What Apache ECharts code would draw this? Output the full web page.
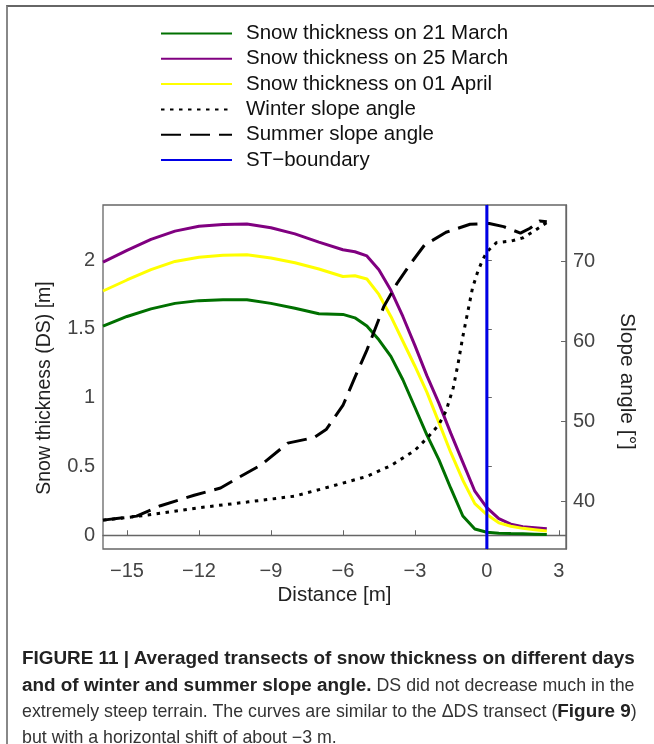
<!DOCTYPE html>
<html>
<head>
<meta charset="utf-8">
<script src="https://cdn.jsdelivr.net/npm/echarts@6/dist/echarts.min.js"></script>
<style>
    html, body { margin: 0; padding: 0; background: #fff; }
    .page { position: relative; width: 654px; height: 744px; overflow: hidden; }
    .frame { position: absolute; left: 6px; top: 5px; width: 700px; height: 800px;
             border-top: 2px solid #666; border-left: 2px solid #888; }
    #chart { position: absolute; left: 0; top: 0; width: 654px; height: 744px; }
    .caption { position: absolute; left: 22px; top: 645px; width: 616px;
               font-family: "Liberation Sans", Arial, sans-serif; font-size: 17.8px;
               line-height: 25.7px; color: #333; }
    .caption div { white-space: nowrap; }
    .caption b { color: #222; font-size: 18.9px; }
</style>
</head>
<body>
<div class="page">
    <div class="frame"></div>
    <div id="chart"></div>
    <div class="caption">
        <div><b>FIGURE 11 | Averaged transects of snow thickness on different days</b></div>
        <div><b>and of winter and summer slope angle.</b> DS did not decrease much in the</div>
        <div>extremely steep terrain. The curves are similar to the ΔDS transect (<b>Figure 9</b>)</div>
        <div>but with a horizontal shift of about −3 m.</div>
    </div>
</div>
<script>
    // snow thickness transects [m], shared distance [m]
    const snowDist = [-16, -15, -14, -13, -12, -11, -10, -9, -8, -7, -6, -5.5, -5, -4.5, -4, -3.5, -3, -2.5, -2, -1.5, -1, -0.5, 0, 0.5, 1, 1.5, 2, 2.5]
    const snow21Mar = [1.52, 1.59, 1.645, 1.685, 1.705, 1.712, 1.712, 1.685, 1.65, 1.61, 1.605, 1.58, 1.52, 1.42, 1.30, 1.13, 0.93, 0.73, 0.55, 0.34, 0.14, 0.045, 0.022, 0.015, 0.012, 0.01, 0.008, 0.005]
    const snow25Mar = [1.985, 2.07, 2.15, 2.21, 2.245, 2.258, 2.262, 2.235, 2.19, 2.13, 2.075, 2.06, 2.03, 1.93, 1.78, 1.59, 1.38, 1.16, 0.96, 0.74, 0.53, 0.32, 0.2, 0.12, 0.08, 0.062, 0.055, 0.047]
    const snow01Apr = [1.775, 1.855, 1.93, 1.99, 2.02, 2.035, 2.038, 2.015, 1.98, 1.935, 1.88, 1.886, 1.862, 1.75, 1.59, 1.41, 1.23, 1.04, 0.82, 0.60, 0.40, 0.23, 0.15, 0.09, 0.065, 0.05, 0.04, 0.03]

    // slope angles [deg]
    const winterDist = [-16, -14.5, -12, -10, -8, -6.5, -5, -4, -3, -2.5, -2, -1.7, -1.4, -1.2, -1, -0.8, -0.6, -0.4, -0.2, 0, 0.4, 1, 1.5, 2, 2.5]
    const winterSlope = [37.7, 38.2, 39.25, 39.95, 40.7, 41.9, 43.15, 44.5, 46.4, 47.9, 49.6, 51.3, 54.2, 57.2, 60.6, 63.6, 66.6, 68.5, 70.0, 71.15, 72.3, 72.5, 72.9, 73.8, 74.8]
    const summerDist = [-16, -14.6, -13.6, -12.2, -11.1, -10.3, -9.4, -8.3, -7.2, -6.7, -6, -5.5, -5, -4.3, -3.75, -3.2, -2.6, -1.7, -0.7, 0.1, 0.7, 1.4, 1.8, 2.2, 2.5]
    const summerSlope = [37.7, 38.2, 39.5, 40.8, 41.7, 43.1, 44.6, 47.3, 48.0, 49.0, 52.0, 55.5, 58.9, 64.3, 67.2, 69.6, 72.0, 73.6, 74.6, 74.7, 74.3, 73.5, 74.1, 75.0, 74.9]

    const stBoundary = 0
    const distTicks = [-15, -12, -9, -6, -3, 0, 3]
    const snowTicks = [0, 0.5, 1, 1.5, 2]
    const slopeTicks = [40, 50, 60, 70]

    const zip = (xs, ys) => xs.map((x, i) => [x, ys[i]])
    const minus = v => String(v).replace('-', '\u2212')
    const font = '"Liberation Sans", Arial, sans-serif'
    const axisColor = '#666'

    let option = {
        animation: false,
        textStyle: { fontFamily: font },
        legend: {
            orient: 'vertical',
            left: 155,
            top: 18,
            itemWidth: 71,
            itemHeight: 14,
            itemGap: 4.3,
            itemStyle: { opacity: 0 },
            textStyle: { fontSize: 20.5, color: '#111', fontFamily: font, padding: [0, 0, 0, 9] },
            data: ['Snow thickness on 21 March', 'Snow thickness on 25 March', 'Snow thickness on 01 April',
                   'Winter slope angle', 'Summer slope angle', 'ST\u2212boundary']
        },
        grid: {
            left: 103, top: 205, right: 88, bottom: 195,
            show: true, borderColor: axisColor, borderWidth: 1.3, backgroundColor: 'transparent'
        },
        xAxis: {
            type: 'value', min: -16, max: 3.3,
            name: 'Distance [m]', nameLocation: 'middle', nameGap: 36,
            nameTextStyle: { fontSize: 20.5, color: '#222' },
            axisLine: { lineStyle: { color: axisColor, width: 1.3 } },
            axisTick: { inside: true, length: 5, customValues: distTicks, lineStyle: { color: axisColor } },
            axisLabel: { customValues: distTicks, fontSize: 20, color: '#444', margin: 12, formatter: minus },
            splitLine: { show: false }
        },
        yAxis: [
            {
                type: 'value', min: -0.1, max: 2.4, position: 'left',
                name: 'Snow thickness (DS) [m]', nameLocation: 'middle', nameGap: 48, nameRotate: 90,
                nameTextStyle: { fontSize: 19.5, color: '#222', padding: [0, 22, 0, 0] },
                axisLine: { lineStyle: { color: axisColor, width: 1.3 } },
                axisTick: { inside: true, length: 5, customValues: snowTicks, lineStyle: { color: axisColor } },
                axisLabel: { customValues: snowTicks, fontSize: 20, color: '#444', margin: 8 },
                splitLine: { show: false }
            },
            {
                type: 'value', min: 34.1, max: 77, position: 'right',
                name: 'Slope angle [\u00b0]', nameLocation: 'middle', nameGap: 50, nameRotate: -90,
                nameTextStyle: { fontSize: 21, color: '#222', padding: [0, 0, 0, 9] },
                axisLine: { show: true, lineStyle: { color: axisColor, width: 1.3 } },
                axisTick: { inside: true, length: 5, customValues: slopeTicks, lineStyle: { color: axisColor } },
                axisLabel: { customValues: slopeTicks, fontSize: 20, color: '#444', margin: 7 },
                splitLine: { show: false }
            }
        ],
        series: [
            {
                name: 'Snow thickness on 21 March', type: 'line', yAxisIndex: 0, symbol: 'none',
                lineStyle: { color: '#007000', width: 3 }, itemStyle: { color: '#007000' },
                data: zip(snowDist, snow21Mar)
            },
            {
                name: 'Snow thickness on 25 March', type: 'line', yAxisIndex: 0, symbol: 'none',
                lineStyle: { color: '#800080', width: 3 }, itemStyle: { color: '#800080' },
                data: zip(snowDist, snow25Mar)
            },
            {
                name: 'Snow thickness on 01 April', type: 'line', yAxisIndex: 0, symbol: 'none',
                lineStyle: { color: '#ffff00', width: 3 }, itemStyle: { color: '#ffff00' },
                data: zip(snowDist, snow01Apr)
            },
            {
                name: 'Winter slope angle', type: 'line', yAxisIndex: 1, symbol: 'none',
                lineStyle: { color: '#000', width: 3, type: [3.5, 5.5] }, itemStyle: { color: '#000' },
                data: zip(winterDist, winterSlope)
            },
            {
                name: 'Summer slope angle', type: 'line', yAxisIndex: 1, symbol: 'none',
                lineStyle: { color: '#000', width: 3, type: [20, 9] }, itemStyle: { color: '#000' },
                data: zip(summerDist, summerSlope)
            },
            {
                name: 'ST\u2212boundary', type: 'line', yAxisIndex: 0, symbol: 'none',
                lineStyle: { color: '#0000e6', width: 3 }, itemStyle: { color: '#0000e6' },
                data: [[stBoundary, -0.1], [stBoundary, 2.4]]
            }
        ]
    }

    let myEchart = echarts.init(document.getElementById('chart'))
    myEchart.setOption(option)
</script>
</body>
</html>
